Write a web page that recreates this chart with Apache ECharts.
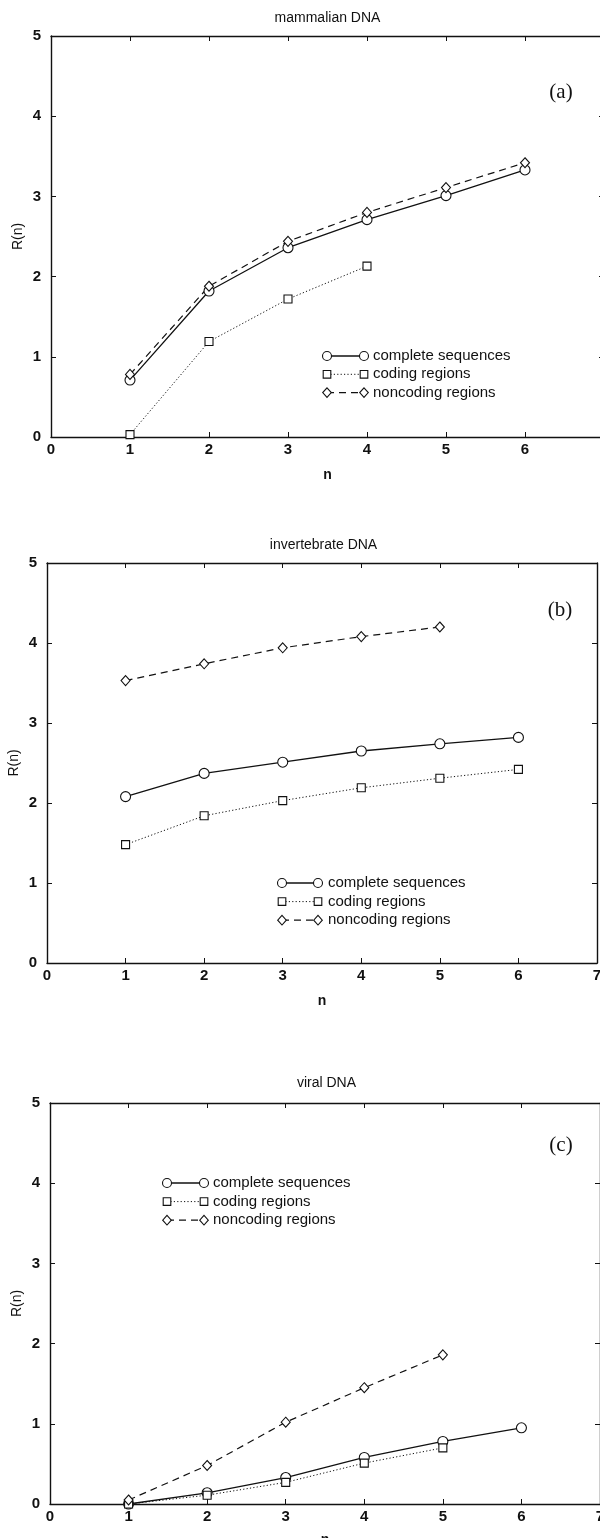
<!DOCTYPE html>
<html><head><meta charset="utf-8">
<script src="https://cdn.jsdelivr.net/npm/echarts@6/dist/echarts.min.js"></script>
<style>html,body{margin:0;padding:0;background:#fff}#c{width:600px;height:1538px}</style>
</head><body><div id="c"></div>
<script>
// ---- data ----
const nValues = [1, 2, 3, 4, 5, 6];
const xRange = [0, 7];
const yRange = [0, 5];
const panelTitles = ['mammalian DNA', 'invertebrate DNA', 'viral DNA'];
const panelTags = ['(a)', '(b)', '(c)'];
const seriesNames = ['complete sequences', 'coding regions', 'noncoding regions'];
const xAxisName = 'n';
const yAxisName = 'R(n)';

const mammalComplete  = [0.71, 1.82, 2.36, 2.71, 3.01, 3.33];
const mammalCoding    = [0.03, 1.19, 1.72, 2.13];
const mammalNoncoding = [0.78, 1.88, 2.44, 2.80, 3.11, 3.42];

const invertComplete  = [2.08, 2.37, 2.51, 2.65, 2.74, 2.82];
const invertCoding    = [1.48, 1.84, 2.03, 2.19, 2.31, 2.42];
const invertNoncoding = [3.53, 3.74, 3.94, 4.08, 4.20];

const viralComplete   = [0.00, 0.14, 0.33, 0.58, 0.78, 0.95];
const viralCoding     = [0.00, 0.11, 0.27, 0.51, 0.70];
const viralNoncoding  = [0.05, 0.48, 1.02, 1.45, 1.86];

const panelData = [
  [mammalComplete, mammalCoding, mammalNoncoding],
  [invertComplete, invertCoding, invertNoncoding],
  [viralComplete, viralCoding, viralNoncoding]
];

// ---- layout / style ----
const grids = [
  {left: 51, top: 36,   width: 553, height: 401},
  {left: 47, top: 563,  width: 550, height: 400},
  {left: 50, top: 1103, width: 550, height: 401}
];
const titleY = [18, 545, 1083];
const tagPos = [[561, 92], [560, 610], [561, 1145]];
// legend: [symbol1 x, symbol2 x, text x, first row y, row step]
const legendPos = [
  [327, 364, 373, 356, 18.3],
  [282, 318, 328, 883, 18.6],
  [167, 204, 213, 1183, 18.6]
];
const INK = '#111';
const FONT = '"Liberation Sans", Arial, Helvetica, sans-serif';
const styles = [
  {symbol: 'circle',  size: 10,     line: {type: 'solid', width: 1.3}},
  {symbol: 'rect',    size: 8,      line: {type: [1.2, 2.2], width: 1}},
  {symbol: 'diamond', size: [9, 10], line: {type: [7, 5], width: 1.2}}
];

const chart = echarts.init(document.getElementById('c'), null, {renderer: 'canvas'});

const xAxes = [], yAxes = [], series = [];
grids.forEach((g, i) => {
  const lineStyle = {color: INK, width: 1.4};
  const tick = {show: true, inside: true, length: 5, lineStyle: {color: INK, width: 1}};
  const base = {type: 'value', min: xRange[0], max: xRange[1], interval: 1, gridIndex: i,
    splitLine: {show: false}, axisLine: {show: true, onZero: false, lineStyle}, axisTick: tick};
  xAxes.push(Object.assign({}, base, {position: 'bottom',
    name: xAxisName, nameLocation: 'middle', nameGap: i === 2 ? 29 : 31, nameMoveOverlap: false,
    nameTextStyle: {fontFamily: FONT, fontSize: 14, color: INK, fontWeight: 'bold'},
    axisLabel: {margin: 5, fontFamily: FONT, fontSize: 15, fontWeight: 'bold', color: INK}}));
  xAxes.push(Object.assign({}, base, {position: 'top', axisLabel: {show: false}}));
  const ybase = {type: 'value', min: yRange[0], max: yRange[1], interval: 1, gridIndex: i,
    splitLine: {show: false}, axisLine: {show: true, onZero: false, lineStyle}, axisTick: tick};
  yAxes.push(Object.assign({}, ybase, {position: 'left',
    name: yAxisName, nameLocation: 'middle', nameGap: 26, nameRotate: 90, nameMoveOverlap: false,
    nameTextStyle: {fontFamily: FONT, fontSize: 14, color: INK},
    axisLabel: {margin: 10, fontFamily: FONT, fontSize: 15, fontWeight: 'bold', color: INK}}));
  yAxes.push(Object.assign({}, ybase, {position: 'right', axisLabel: {show: false}}));

  panelData[i].forEach((vals, k) => {
    const st = styles[k];
    series.push({
      type: 'line', name: seriesNames[k],
      xAxisIndex: 2 * i, yAxisIndex: 2 * i,
      data: vals.map((v, j) => [nValues[j], v]),
      symbol: st.symbol, symbolSize: st.size, showAllSymbol: true,
      lineStyle: Object.assign({color: INK}, st.line),
      itemStyle: {color: '#fff', borderColor: INK, borderWidth: 1.1},
      emphasis: {disabled: true}, silent: true, clip: false, z: 3
    });
  });
});

// graphic: titles, tags, legends
const graphic = [];
grids.forEach((g, i) => {
  graphic.push({type: 'text', x: g.left + 553 / 2, y: titleY[i],
    style: {text: panelTitles[i], font: '14px ' + FONT, fill: INK, textAlign: 'center', textVerticalAlign: 'middle'}});
  graphic.push({type: 'text', x: tagPos[i][0], y: tagPos[i][1],
    style: {text: panelTags[i], font: '21px "Liberation Serif", "DejaVu Serif", serif', fill: INK, textAlign: 'center', textVerticalAlign: 'middle'}});
  const [x1, x2, tx, y0, dy] = legendPos[i];
  seriesNames.forEach((name, k) => {
    const y = y0 + k * dy;
    const st = styles[k];
    const dash = st.line.type === 'solid' ? null : st.line.type;
    graphic.push({type: 'line', shape: {x1, y1: y, x2, y2: y}, z: 10,
      style: {stroke: INK, lineWidth: st.line.width, lineDash: dash}});
    [x1, x2].forEach(x => {
      let el;
      if (k === 0) el = {type: 'circle', shape: {cx: x, cy: y, r: 4.5}};
      else if (k === 1) el = {type: 'rect', shape: {x: x - 3.8, y: y - 3.8, width: 7.6, height: 7.6}};
      else el = {type: 'polygon', shape: {points: [[x, y - 4.8], [x + 4.3, y], [x, y + 4.8], [x - 4.3, y]]}};
      el.z = 11;
      el.style = {fill: '#fff', stroke: INK, lineWidth: 1.1};
      graphic.push(el);
    });
    graphic.push({type: 'text', x: tx, y, z: 11,
      style: {text: name, font: '15px ' + FONT, fill: INK, textVerticalAlign: 'middle'}});
  });
});

chart.setOption({
  animation: false,
  backgroundColor: '#fff',
  grid: grids.map(g => Object.assign({containLabel: false, outerBoundsMode: 'none'}, g)),
  xAxis: xAxes,
  yAxis: yAxes,
  series,
  graphic
});
</script></body></html>
